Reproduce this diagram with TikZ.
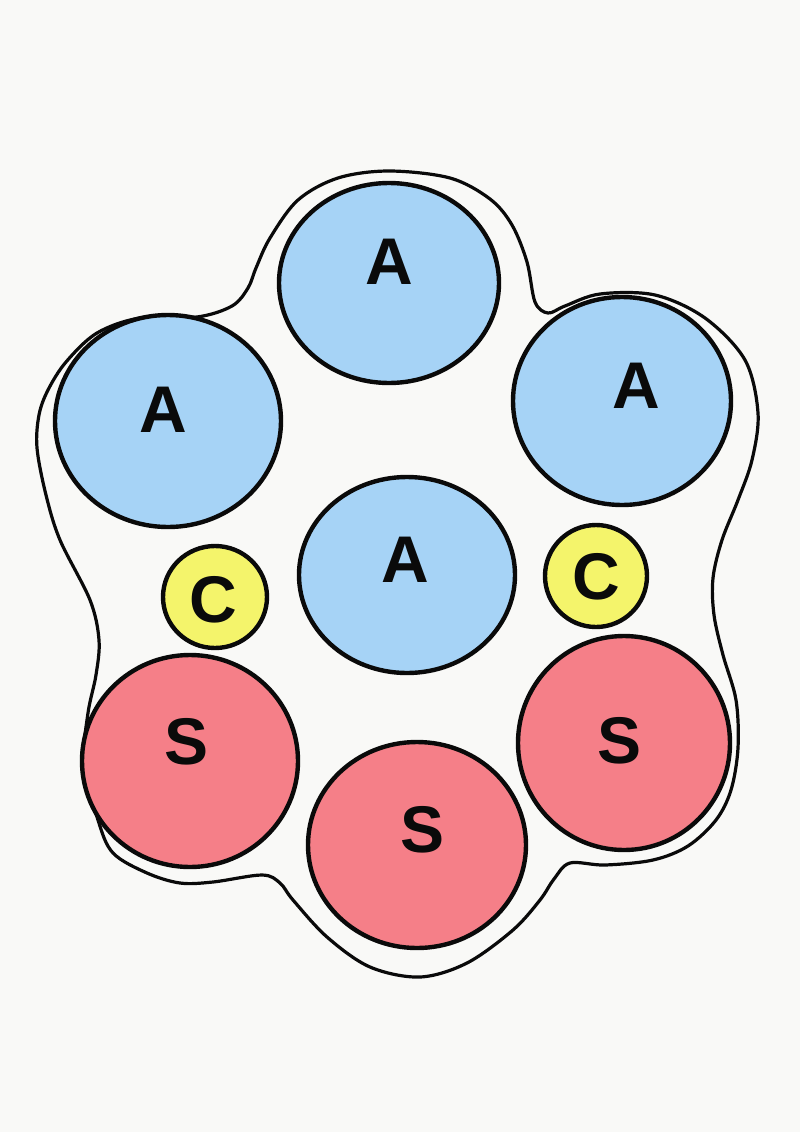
\documentclass[tikz,border=0pt]{standalone}
\usepackage{fontspec}
\setmainfont{Liberation Sans}
\usetikzlibrary{shapes.geometric}
\definecolor{blobPaper}{HTML}{F9F9F7}
\definecolor{blobBlue}{HTML}{A6D3F6}
\definecolor{blobRed}{HTML}{F57F88}
\definecolor{blobYellow}{HTML}{F4F46B}
\definecolor{blobInk}{HTML}{0A0A0A}

\begin{document}
\begin{tikzpicture}[x=1pt,y=-1pt,line cap=round,line join=round]
\path[fill=blobPaper] (0,0) rectangle (800,1132);
\tikzset{cell/.style={ellipse,draw=blobInk,line width=4.4pt,inner sep=0pt},
  acell/.style={cell,fill=blobBlue},scell/.style={cell,fill=blobRed},ccell/.style={cell,fill=blobYellow},
  letter/.style={text=blobInk,font=\fontsize{66}{66}\selectfont\bfseries,inner sep=0pt},
  hull/.style={draw=blobInk,line width=3.2pt}}
% outer membrane
\draw[hull] plot[smooth cycle,tension=0.55] coordinates {
  (389,171) (450,178) (490,199) (512,225) (527,262) (535,302) (548,313) (565,306)
  (600,294) (655,295) (705,318) (745,360) (758,413) (752,460) (738,500) (722,540)
  (713,578) (714,615) (723,655) (736,700) (738,748) (731,790) (716,820) (688,846) (653,860)
  (605,865) (570,863) (554,879) (540,900) (513,930) (467,963) (420,977) (370,967)
  (327,937) (293,900) (280,883) (262,875) (213,882) (180,883) (147,873) (113,853)
  (98,820) (84,763) (88,713) (96,675) (99,640) (90,600) (60,540) (46,495)
  (37,448) (39,415) (48,390) (66,362) (97,333) (140,318) (197,317) (232,306) (248,288)
  (256,268) (270,238) (298,200) (338,178)};
% cells
\node[acell,minimum width=220pt,minimum height=200pt] (aTop) at (389,283) {};
\node[acell,minimum width=226pt,minimum height=212pt] (aLeft) at (168,421) {};
\node[acell,minimum width=218pt,minimum height=208pt] (aRight) at (622,401) {};
\node[acell,minimum width=216pt,minimum height=196pt] (aMid) at (407,575) {};
\node[ccell,minimum width=104pt,minimum height=102pt] (cLeft) at (215,597) {};
\node[ccell,minimum width=102pt,minimum height=102pt] (cRight) at (596,576) {};
\node[scell,minimum width=216pt,minimum height=212pt] (sLeft) at (190,761) {};
\node[scell,minimum width=218pt,minimum height=206pt] (sBottom) at (417,845) {};
\node[scell,minimum width=212pt,minimum height=214pt] (sRight) at (624,743) {};
% labels
\node[letter] (aTopL) at (389,262) {A};
\node[letter] (aLeftL) at (163,410) {A};
\node[letter] (aRightL) at (636,386) {A};
\node[letter] (aMidL) at (405,560) {A};
\node[letter] (cLeftL) at (213,600) {C};
\node[letter] (cRightL) at (596,577) {C};
\node[letter] (sLeftL) at (187,742) {S};
\node[letter] (sBottomL) at (423,830) {S};
\node[letter] (sRightL) at (620,741) {S};
\end{tikzpicture}
\end{document}
